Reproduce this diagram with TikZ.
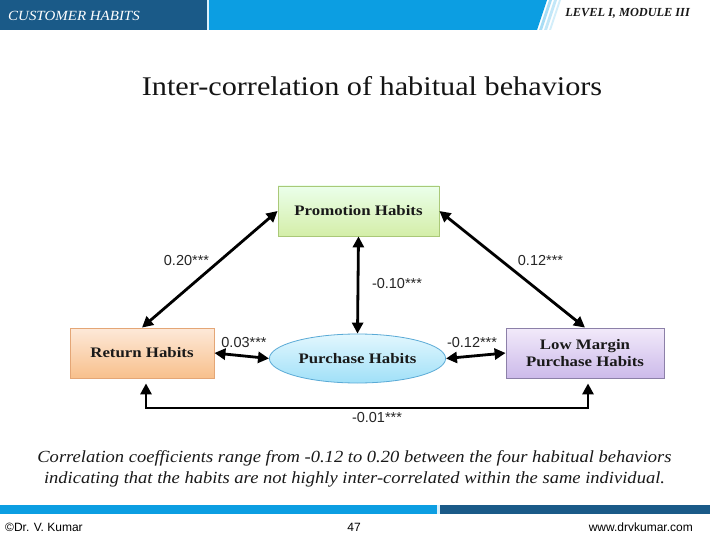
\documentclass[tikz,border=0pt]{standalone}
\usepackage{fontspec}
\setmainfont{Liberation Serif}
\setsansfont{Liberation Sans}
\newfontfamily\titlefont[FakeStretch=1.12]{Liberation Serif}
\newfontfamily\boxfont[FakeStretch=1.16]{Liberation Serif}
\newfontfamily\capfont[FakeStretch=1.09]{Liberation Serif}
\newfontfamily\headfont[FakeStretch=1.07]{Liberation Serif}
\usetikzlibrary{arrows.meta,shapes.geometric}
\definecolor{hdark}{HTML}{1A5A88}
\definecolor{hbright}{HTML}{0C9EE2}
\definecolor{hlight}{HTML}{A8DDF5}
\tikzset{
  habit/.style={draw, line width=0.8pt, minimum height=50pt, align=center,
    font=\boxfont\fontsize{14.5}{17}\selectfont\bfseries, text=black!90},
  biarrow/.style={line width=2.8pt, {Triangle[length=11pt,width=11pt]}-{Triangle[length=11pt,width=11pt]}},
  coef/.style={font=\sffamily\fontsize{14.5}{16}\selectfont, text=black!85, inner sep=0pt},
  foot/.style={font=\sffamily\fontsize{12}{13}\selectfont, inner sep=0pt},
}
\begin{document}
\begin{tikzpicture}[x=1pt,y=-1pt]
\useasboundingbox (0,0) rectangle (720,540);
\fill[white] (0,0) rectangle (720,540);
% header
\fill[hdark] (0,0) rectangle (207,30);
\fill[white!85!hbright] (207,0) rectangle (209,30);
\fill[hbright] (209,0) -- (547,0) -- (537,30) -- (209,30) -- cycle;
\fill[hlight] (549,0) -- (552,0) -- (542,30) -- (539,30) -- cycle;
\fill[hlight!70!white] (554,0) -- (557,0) -- (547,30) -- (544,30) -- cycle;
\fill[hlight!50!white] (559,0) -- (561,0) -- (551,30) -- (549,30) -- cycle;
\node[anchor=west, text=white, font=\headfont\itshape\fontsize{14}{15}\selectfont, inner sep=0pt] (hl) at (8,16) {CUSTOMER HABITS};
\node[anchor=east, text=black!90, font=\bfseries\itshape\fontsize{12.3}{14}\selectfont, inner sep=0pt] (hr) at (690,13) {LEVEL I, MODULE III};
% title
\node[font=\titlefont\fontsize{27}{30}\selectfont, text=black!92, inner sep=0pt] (title) at (372,86) {Inter-correlation of habitual behaviors};
% nodes
\node[habit, minimum width=161pt, top color=green!8!white, bottom color={rgb,255:red,212;green,238;blue,168}, draw={rgb,255:red,170;green,200;blue,120}] (promo) at (358.5,211) {Promotion Habits};
\node[habit, minimum width=144pt, top color={rgb,255:red,253;green,233;blue,217}, bottom color={rgb,255:red,248;green,192;blue,140}, draw={rgb,255:red,228;green,166;blue,118}] (ret) at (142,353) {Return Habits};
\node[habit, ellipse, minimum width=169pt, minimum height=49pt, top color={rgb,255:red,226;green,247;blue,254}, bottom color={rgb,255:red,160;green,224;blue,248}, draw={rgb,255:red,90;green,170;blue,214}] (purch) at (357.5,358.5) {Purchase Habits};
\node[habit, minimum width=158pt, top color={rgb,255:red,242;green,234;blue,250}, bottom color={rgb,255:red,204;green,186;blue,234}, draw={rgb,255:red,140;green,128;blue,168}] (low) at (585,353) {Low Margin\\Purchase Habits};
% connectors
\draw[biarrow] (ret.north) -- (promo.west);
\draw[biarrow] (promo.east) -- (low.north);
\draw[biarrow] (promo.south) -- (purch.north);
\draw[biarrow] (ret.east) -- (purch.west);
\draw[biarrow] (purch.east) -- (low.west);
\coordinate (bl) at (146,408);
\draw[biarrow] ([shift={(4pt,-5pt)}]ret.south) |- (bl) -| ([shift={(3pt,-5pt)}]low.south);
% labels
\node[coef] (c1) at (186.5,261) {0.20***};
\node[coef] (c2) at (540.5,261) {0.12***};
\node[coef] (c3) at (397,284) {-0.10***};
\node[coef] (c4) at (244,343) {0.03***};
\node[coef] (c5) at (472,343) {-0.12***};
\node[coef] (c6) at (377,418) {-0.01***};
% caption
\node[font=\capfont\itshape\fontsize{17}{21}\selectfont, align=center, text=black!90, inner sep=0pt] (cap) at (354.5,468.5) {Correlation coefficients range from -0.12 to 0.20 between the four habitual behaviors\\indicating that the habits are not highly inter-correlated within the same individual.};
% footer
\fill[hbright] (0,505) rectangle (437,514);
\fill[white!85!hbright] (437,505) rectangle (440,514);
\fill[hdark] (440,505) rectangle (710,514);
\node[anchor=west, foot] (f1) at (5,527) {©Dr. V. Kumar};
\node[foot] (f2) at (354,527) {47};
\node[anchor=east, foot] (f3) at (693,527) {www.drvkumar.com};
\end{tikzpicture}
\end{document}
